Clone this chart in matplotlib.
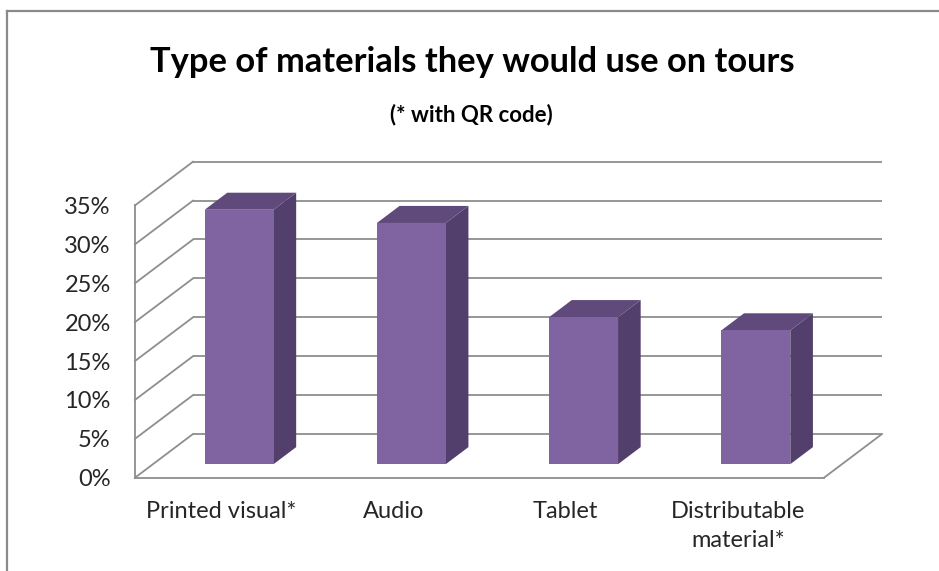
import matplotlib
matplotlib.use("Agg")
import matplotlib.pyplot as plt
from matplotlib.patches import Polygon
from matplotlib.lines import Line2D

categories = ["Printed visual*", "Audio", "Tablet", "Distributable\nmaterial*"]
values = [32.7, 31.0, 18.9, 17.2]
yticks = [0, 5, 10, 15, 20, 25, 30, 35]
ytick_labels = ["0%", "5%", "10%", "15%", "20%", "25%", "30%", "35%"]
title = "Type of materials they would use on tours"
subtitle = "(* with QR code)"

FONT = ["Lato", "DejaVu Sans"]
plt.rcParams["font.family"] = FONT

W, H = 939, 571
fig = plt.figure(figsize=(W / 100, H / 100), dpi=100)
fig.patch.set_facecolor("white")

# front plane of the 3-D box
left_px, right_px = 135, 824
bottom_px = 477.7
top_px = bottom_px - 35 * 7.78
ax = fig.add_axes([left_px / W, (H - bottom_px) / H,
                   (right_px - left_px) / W, (bottom_px - top_px) / H])
ax.set_xlim(0, len(categories))
ax.set_ylim(0, 35)
ax.set_facecolor("none")

GRID = "#8E8E8E"
for s in ["top", "right"]:
    ax.spines[s].set_visible(False)
for s in ["left", "bottom"]:
    ax.spines[s].set_color(GRID)
    ax.spines[s].set_linewidth(1.3)

ax.set_yticks(yticks)
ax.set_yticklabels(ytick_labels)
ax.set_xticks([i + 0.5 for i in range(len(categories))])
ax.set_xticklabels(categories, linespacing=1.45)
ax.tick_params(axis="y", length=0, pad=17.5, labelsize=17, labelcolor="#262626")
ax.tick_params(axis="x", length=0, pad=17, labelsize=17, labelcolor="#262626")

# depth offset of the back wall (data units)
DX = 58 / 172.25
DY = 43.7 / 7.78
n = len(categories)

# back wall gridlines and left wall diagonals
for v in yticks:
    ax.add_line(Line2D([DX, n + DX], [v + DY, v + DY], color=GRID, lw=1.3,
                       zorder=1, clip_on=False, solid_capstyle="butt"))
    ax.add_line(Line2D([0, DX], [v, v + DY], color=GRID, lw=1.3,
                       zorder=1, clip_on=False))
# floor right edge
ax.add_line(Line2D([n, n + DX], [0, DY], color=GRID, lw=1.3, zorder=1, clip_on=False))

# bars
FRONT, SIDE, TOP = "#8064A2", "#523F6B", "#604A7B"
w = 0.40
d0, d1 = 0.31, 0.70
for i, v in enumerate(values):
    xl = i + 0.5 - w / 2 + d0 * DX
    xr = xl + w
    y0 = d0 * DY
    ddx = (d1 - d0) * DX
    ddy = (d1 - d0) * DY
    front = Polygon([(xl, y0), (xr, y0), (xr, y0 + v), (xl, y0 + v)],
                    closed=True, facecolor=FRONT, edgecolor="none", zorder=3, clip_on=False)
    side = Polygon([(xr, y0), (xr + ddx, y0 + ddy), (xr + ddx, y0 + ddy + v), (xr, y0 + v)],
                   closed=True, facecolor=SIDE, edgecolor="none", zorder=3, clip_on=False)
    top = Polygon([(xl, y0 + v), (xr, y0 + v), (xr + ddx, y0 + v + ddy), (xl + ddx, y0 + v + ddy)],
                  closed=True, facecolor=TOP, edgecolor="none", zorder=3, clip_on=False)
    for p in (side, top, front):
        ax.add_patch(p)

# titles
fig.text(472 / W, 1 - 62 / H, title, ha="center", va="center",
         fontsize=24.8, fontweight="bold", color="black")
fig.text(471 / W, 1 - 115 / H, subtitle, ha="center", va="center",
         fontsize=16, fontweight="bold", color="black")

# chart border (top and left visible)
BORDER = "#8A8A8A"
fig.add_artist(Line2D([7 / W, 7 / W], [0, 1 - 11 / H], color=BORDER, lw=1.6,
                      transform=fig.transFigure))
fig.add_artist(Line2D([7 / W, 1], [1 - 11 / H, 1 - 11 / H], color=BORDER, lw=1.6,
                      transform=fig.transFigure))

fig.savefig("out.png", dpi=100, facecolor="white")
